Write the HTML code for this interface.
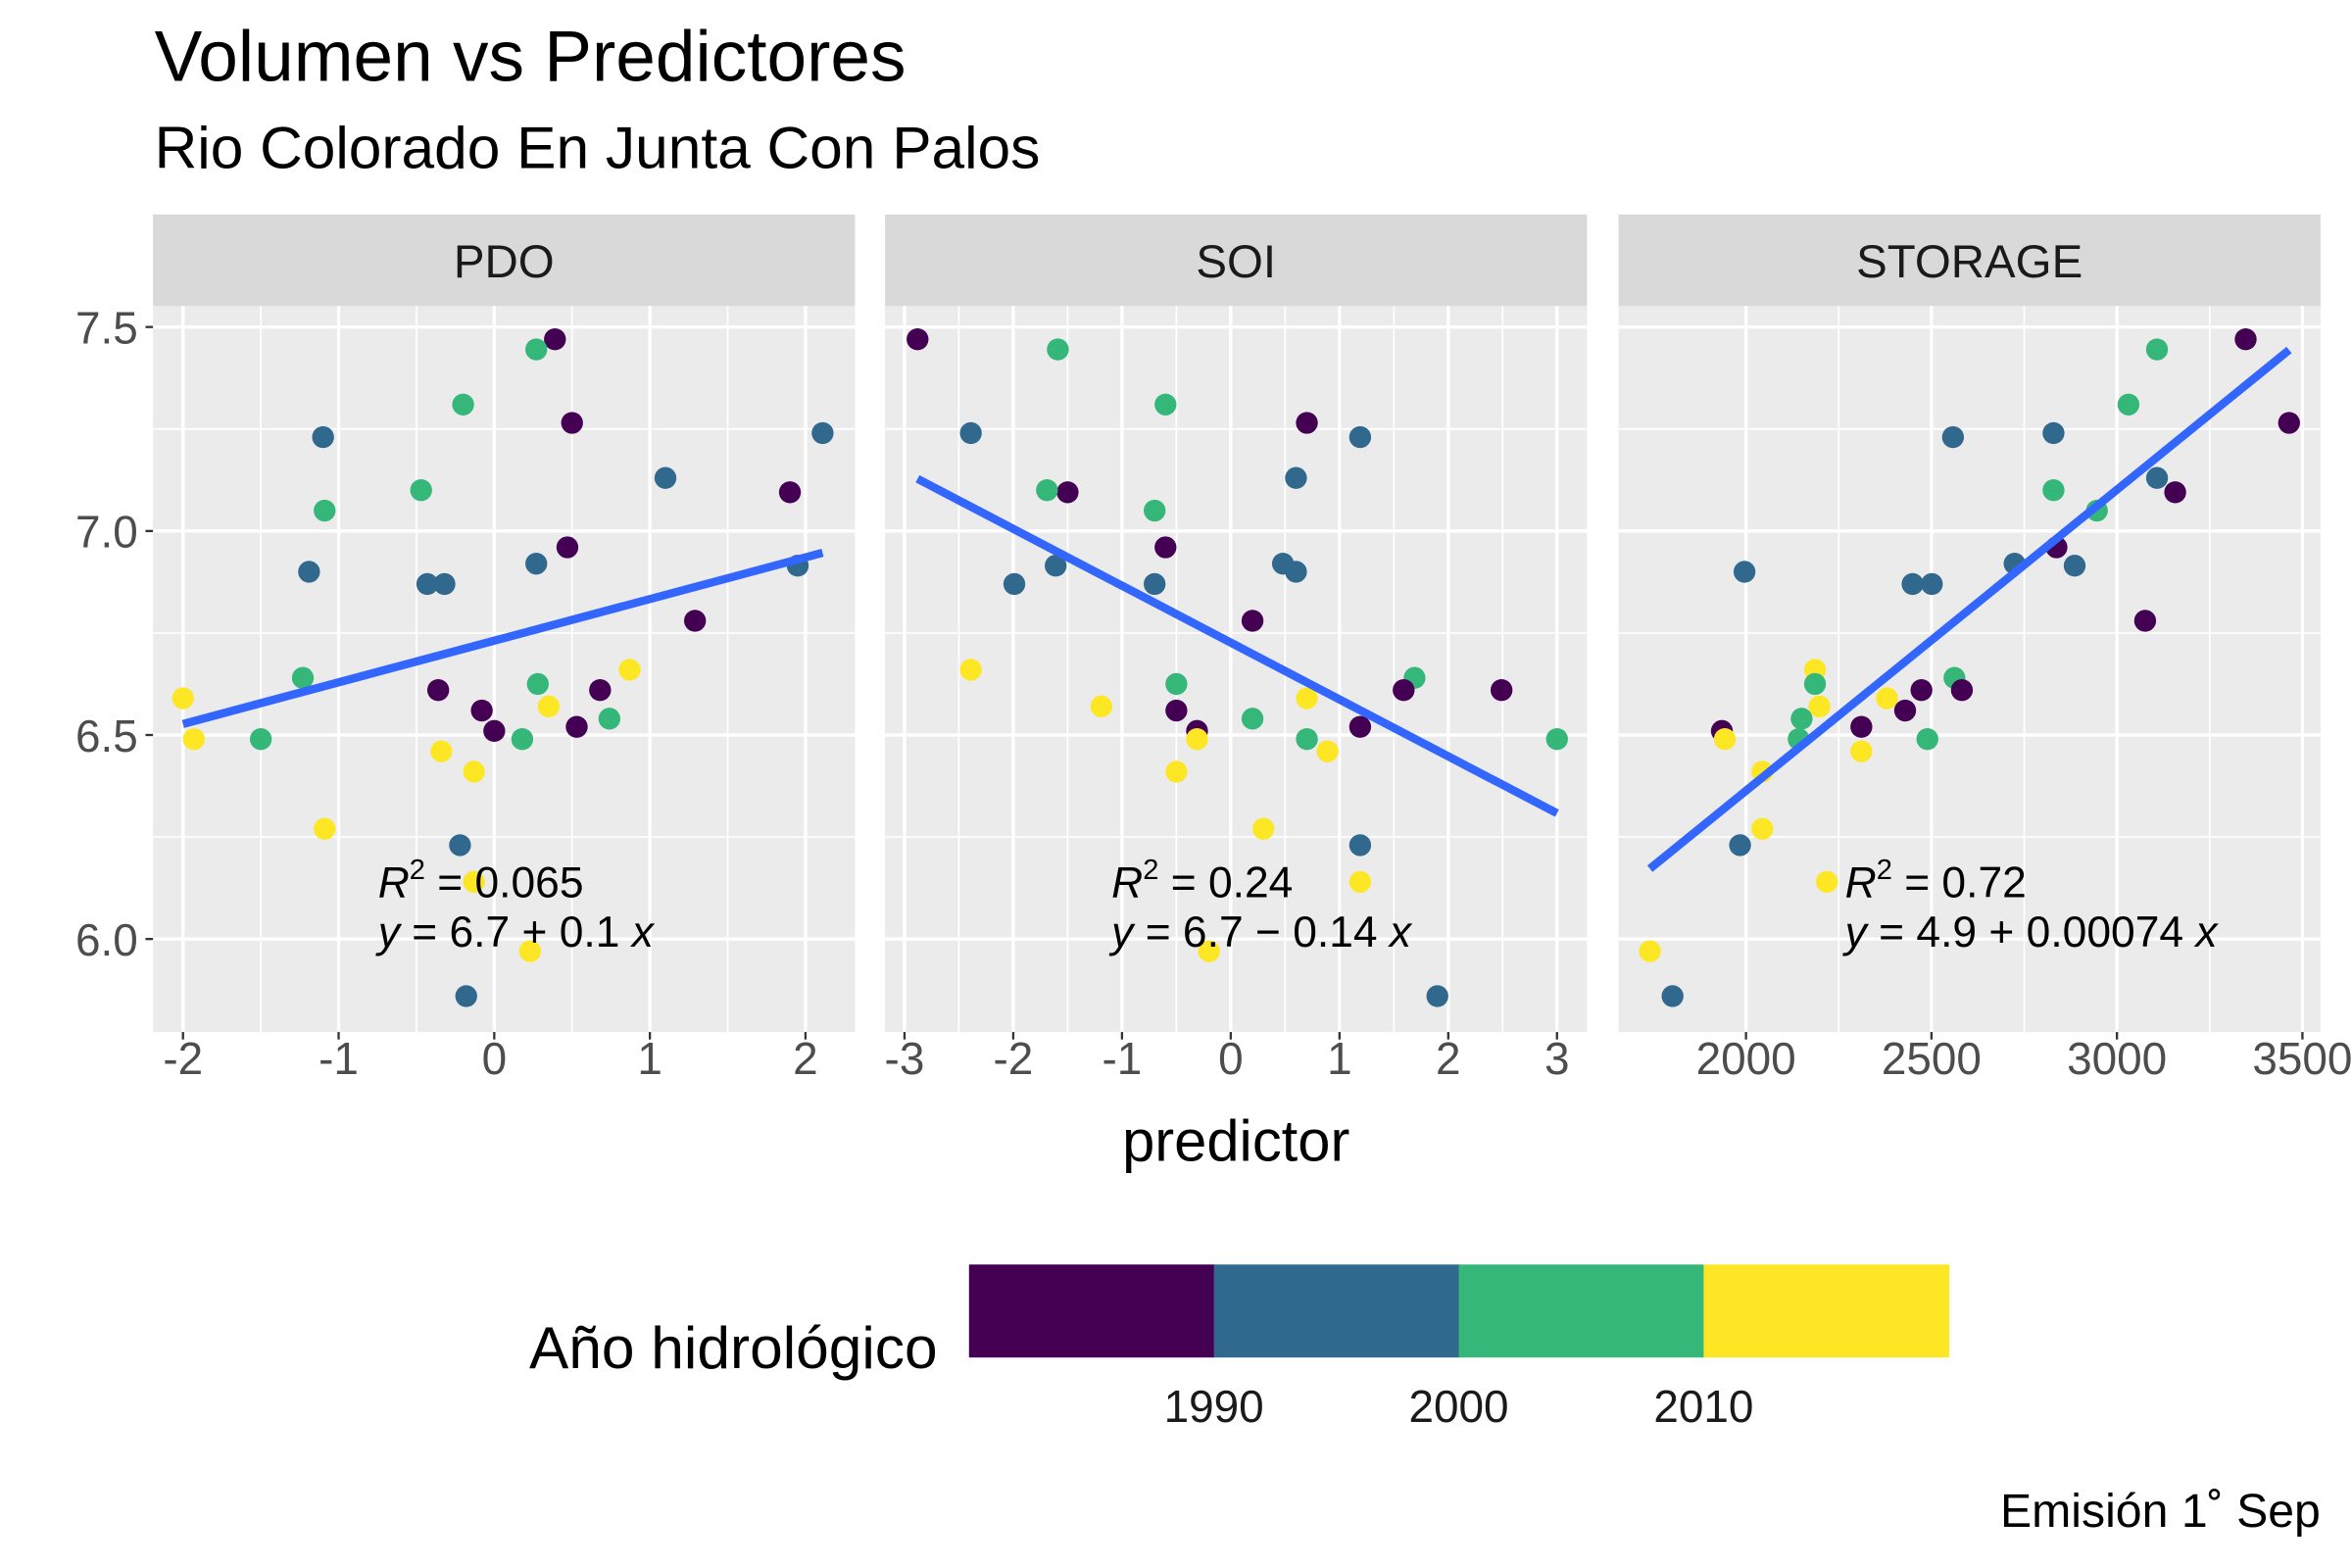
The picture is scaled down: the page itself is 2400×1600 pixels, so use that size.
<!DOCTYPE html>
<html><head><meta charset="utf-8"><style>html,body{margin:0;padding:0;background:#fff}svg{display:block}text{font-family:"Liberation Sans",sans-serif}</style></head>
<body>
<svg id="chart" width="2400" height="1600" viewBox="0 0 1568 1045.33" xmlns="http://www.w3.org/2000/svg">
<rect width="1568" height="1046" fill="#fff"/>
<text x="103" y="54" font-size="47.7">Volumen vs Predictores</text>
<text x="103" y="112" font-size="39.5">Rio Colorado En Junta Con Palos</text>
<g id="panels"></g>
<text x="824" y="774" font-size="39" text-anchor="middle">predictor</text>
<text x="625" y="912" font-size="39.5" text-anchor="end">Año hidrológico</text>
<g id="legend"></g>
<text x="1547" y="1018" font-size="31.5" text-anchor="end">Emisión 1˚ Sep</text>
</svg>
<script>
const volume = [7.47,7.445,7.265,7.24,7.23,7.31,7.13,7.095,7.10,7.05,6.96,6.92,6.915,6.90,6.87,6.87,6.78,6.66,6.64,6.61,6.625,6.61,6.59,6.57,6.56,6.54,6.52,6.51,6.49,6.49,6.49,6.46,6.41,6.27,6.23,6.14,5.97,5.86];
const decade = [1980,2000,1980,1990,1990,2000,1990,1980,2000,2000,1980,1990,1990,1990,1990,1990,1980,2010,2000,1980,2000,1980,2010,2010,1980,2000,1980,1980,2010,2000,2000,2010,2010,2010,1990,2010,2010,1990];
const pdo = [0.39,0.27,0.50,2.11,-1.10,-0.20,1.10,1.90,-0.47,-1.09,0.47,0.27,1.95,-1.19,-0.43,-0.32,1.29,0.87,-1.23,-0.36,0.28,0.68,-2.0,0.35,-0.08,0.74,0.53,0.0,-1.93,-1.50,0.18,-0.34,-0.13,-1.09,-0.22,-0.13,0.23,-0.18];
const soi = [-2.88,-1.59,0.70,-2.39,1.19,-0.60,0.60,-1.50,-1.69,-0.70,-0.60,0.48,-1.61,0.60,-1.99,-0.70,0.20,-2.39,1.69,2.49,-0.50,1.59,0.70,-1.19,-0.50,0.20,1.19,-0.31,-0.31,3.0,0.70,0.89,-0.50,0.30,1.19,1.19,-0.20,1.90];
const storage = [3347,3108,3464,2829,2558,3031,3108,3157,2829,2946,2837,2724,2886,1996,2449,2501,3076,2186,2562,2582,2186,2473,2380,2198,2429,2150,2311,1935,1943,2489,2142,2311,2044,2044,1984,2218,1741,1802];
const panelNames = ["PDO","SOI","STORAGE"];
const xTicks = [[-2,-1,0,1,2],[-3,-2,-1,0,1,2,3],[2000,2500,3000,3500]];
const yTicks = [6.0,6.5,7.0,7.5];
const r2Labels = ["0.065","0.24","0.72"];
const eqLabels = ["6.7 + 0.1","6.7 − 0.14","4.9 + 0.00074"];
const legendBreaks = [1990,2000,2010];
const decadeList = [1980,1990,2000,2010];
const decadeColors = {1980:"#440154",1990:"#31688E",2000:"#35B779",2010:"#FDE725"};

const NS="http://www.w3.org/2000/svg";
function mk(tag,attrs,parent){const e=document.createElementNS(NS,tag);for(const k in attrs)e.setAttribute(k,attrs[k]);parent.appendChild(e);return e;}
const yTop=204,yBot=688;
function yScale(v){return 218+(7.5-v)*272;}
const panelX=[102,590,1079],panelW=468;
const xScales=[v=>122+(v+2)*103.75, v=>603+(v+3)*72.5, v=>1164+(v-2000)*0.2473];
const series=[pdo,soi,storage];
const root=document.getElementById('panels');
for(let p=0;p<3;p++){
  const g=mk('g',{},root);
  
  
  const x0=panelX[p],sx=xScales[p];
  const bg=mk('rect',{x:x0,y:yTop,width:panelW,height:yBot-yTop,fill:'#EBEBEB'},g);
  
  
  const strip=mk('rect',{x:x0,y:143,width:panelW,height:61,fill:'#D9D9D9'},g);
  
  
  const st=mk('text',{x:x0+panelW/2,y:185,'font-size':31,'text-anchor':'middle',fill:'#1A1A1A'},g);
  st.textContent=panelNames[p];
  
  
  for(let i=0;i<yTicks.length;i++){const m=yTicks[i]+0.25;const yy=yScale(m);if(yy>yTop&&yy<yBot){const l=mk('line',{x1:x0,x2:x0+panelW,y1:yy,y2:yy,stroke:'#fff','stroke-width':1.1},g);}}
  const xt=xTicks[p];
  for(let i=0;i<xt.length-1;i++){const m=(xt[i]+xt[i+1])/2;const xx=sx(m);const l=mk('line',{x1:xx,x2:xx,y1:yTop,y2:yBot,stroke:'#fff','stroke-width':1.1},g);}
  for(const t of yTicks){const yy=yScale(t);const l=mk('line',{x1:x0,x2:x0+panelW,y1:yy,y2:yy,stroke:'#fff','stroke-width':2.2},g);}
  for(const t of xt){const xx=sx(t);const l=mk('line',{x1:xx,x2:xx,y1:yTop,y2:yBot,stroke:'#fff','stroke-width':2.2},g);
    const tk=mk('line',{x1:xx,x2:xx,y1:yBot,y2:yBot+5,stroke:'#333','stroke-width':1.5},g);
    const tl=mk('text',{x:xx,y:yBot+28,'font-size':30,'text-anchor':'middle',fill:'#4D4D4D'},g);tl.textContent=String(t);}
  if(p===0){for(const t of yTicks){const yy=yScale(t);const tk=mk('line',{x1:x0-5,x2:x0,y1:yy,y2:yy,stroke:'#333','stroke-width':1.5},g);
    const tl=mk('text',{x:x0-10,y:yy+11,'font-size':30,'text-anchor':'end',fill:'#4D4D4D'},g);tl.textContent=t.toFixed(1);}}
  const xs=series[p];
  for(let i=0;i<xs.length;i++){const c=mk('circle',{cx:sx(xs[i]),cy:yScale(volume[i]),r:7.3,fill:decadeColors[decade[i]]},g);
    
    }
  const n=xs.length;let mx=0,my=0;for(let i=0;i<n;i++){mx+=xs[i];my+=volume[i];}mx/=n;my/=n;
  let sxy=0,sxx=0;for(let i=0;i<n;i++){sxy+=(xs[i]-mx)*(volume[i]-my);sxx+=(xs[i]-mx)**2;}
  const b=sxy/sxx,a=my-b*mx;const xmin=Math.min(...xs),xmax=Math.max(...xs);
  const ln=mk('line',{x1:sx(xmin),y1:yScale(a+b*xmin),x2:sx(xmax),y2:yScale(a+b*xmax),stroke:'#3366FF','stroke-width':5.5},g);
  
  
  const ax=[252,741,1230][p];
  const t1=mk('text',{x:ax,y:598,'font-size':29,fill:'#000'},g);
  t1.innerHTML='<tspan font-style="italic">R</tspan><tspan dy="-12" font-size="19">2</tspan><tspan dy="12"> = '+r2Labels[p]+'</tspan>';
  
  
  const t2=mk('text',{x:ax,y:631,'font-size':29,fill:'#000'},g);
  t2.innerHTML='<tspan font-style="italic">y</tspan> = '+eqLabels[p]+' <tspan font-style="italic">x</tspan>';
  
  
}
const lg=document.getElementById('legend');
const lx0=646,lw=653,segW=lw/decadeList.length;
for(let i=0;i<decadeList.length;i++){const r=mk('rect',{x:lx0+i*segW,y:843,width:segW+0.5,height:62,fill:decadeColors[decadeList[i]]},lg);
  
  }
for(let i=0;i<legendBreaks.length;i++){const xx=lx0+(i+1)*segW;
  const t=mk('text',{x:xx,y:948,'font-size':30,'text-anchor':'middle',fill:'#1A1A1A'},lg);t.textContent=legendBreaks[i];
  
  }
</script>
</body></html>
